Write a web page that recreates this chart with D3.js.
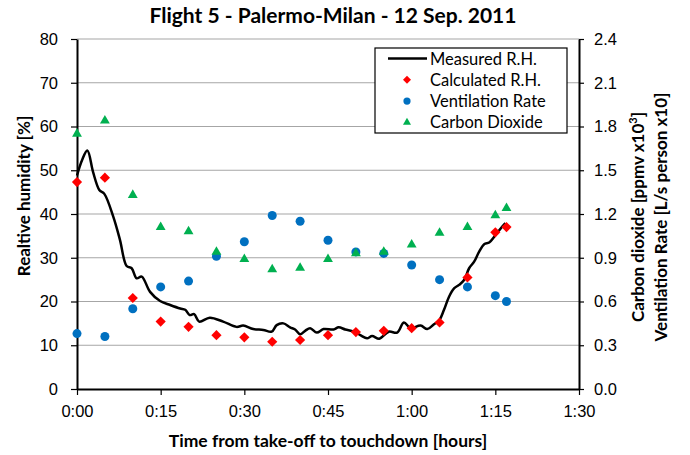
<!DOCTYPE html>
<html>
<head>
<meta charset="utf-8">
<script src="https://cdn.jsdelivr.net/npm/d3@7"></script>
<style>
  html, body { margin: 0; padding: 0; background: #fff; }
  svg { display: block; font-family: Lato, 'Open Sans', sans-serif; }
</style>
</head>
<body>
<div id="chart"></div>
<script>
// sample times in minutes after take-off
var sampleTimes = [0, 5, 10, 15, 20, 25, 30, 35, 40, 45, 50, 55, 60, 65, 70, 75, 77];
var calculatedRH = [47.3, 48.3, 20.8, 15.4, 14.2, 12.3, 11.8, 10.8, 11.2, 12.3, 13.0, 13.3, 13.9, 15.2, 25.5, 35.8, 37.0];
var ventilationRate = [0.38, 0.36, 0.55, 0.70, 0.74, 0.91, 1.01, 1.19, 1.15, 1.02, 0.94, 0.93, 0.85, 0.75, 0.70, 0.64, 0.60];
var carbonDioxide = [1.75, 1.84, 1.33, 1.11, 1.08, 0.94, 0.89, 0.82, 0.83, 0.89, 0.93, 0.94, 0.99, 1.07, 1.11, 1.19, 1.24];

// measured R.H. trace
var measuredTimes = [0, 0.9, 1.85, 2.9, 4.0, 4.9, 6.5, 7.7, 8.9, 9.8, 10.7, 11.6, 13.1, 14.9, 16.7, 18.5, 19.4, 20.2,
  21.0, 21.9, 23.8, 26.2, 28.6, 29.8, 31.6, 33.4, 34.9, 35.8, 37.0, 38.2, 39.1, 40.0, 40.9, 41.8, 43.0, 44.2,
  46.0, 46.9, 48.1, 49.6, 50.8, 52.0, 52.9, 54.2, 55.9, 57.4, 58.6, 59.8, 61.6, 62.8, 64.0, 64.9, 65.8, 66.7,
  67.6, 68.5, 69.4, 70.3, 71.2, 72.1, 73.0, 73.9, 74.8, 75.7, 76.8];
var measuredRH = [48.8, 52.3, 54.5, 49.5, 45.5, 44.6, 39.4, 34.1, 28.1, 27.6, 25.3, 25.7, 22.2, 20.1, 19.2, 18.4, 18.1, 16.9,
  17.1, 15.4, 16.3, 15.4, 14.2, 14.5, 13.7, 13.5, 13.1, 14.6, 15.0, 14.1, 13.6, 12.5, 13.3, 13.9, 12.9, 13.7,
  13.6, 14.1, 13.6, 13.1, 12.3, 11.6, 12.1, 11.5, 13.1, 12.9, 15.2, 13.9, 14.5, 13.7, 14.8, 15.6, 18.1, 21.1,
  23.0, 23.8, 24.9, 27.6, 29.1, 31.4, 33.1, 33.5, 34.8, 36.3, 37.9];

var xTicks = [0, 15, 30, 45, 60, 75, 90];
var leftTicks = [0, 10, 20, 30, 40, 50, 60, 70, 80];
var rightTicks = [0, 0.3, 0.6, 0.9, 1.2, 1.5, 1.8, 2.1, 2.4];

(function() {
    'use strict';

    var width = 690, height = 455;
    var margin = { top: 39, right: 111, bottom: 66, left: 77 };
    var innerWidth = width - margin.left - margin.right;
    var innerHeight = height - margin.top - margin.bottom;

    var colors = { red: '#ff0000', blue: '#0070c0', green: '#00b050', grid: '#a6a6a6' };

    var x = d3.scaleLinear().domain([0, 90]).range([0, innerWidth]);
    var yLeft = d3.scaleLinear().domain([0, 80]).range([innerHeight, 0]);
    var yRight = d3.scaleLinear().domain([0, 2.4]).range([innerHeight, 0]);

    var svg = d3.select('#chart').append('svg')
        .attr('width', width)
        .attr('height', height);

    // Title
    svg.append('text')
        .attr('x', 333)
        .attr('y', 23)
        .attr('text-anchor', 'middle')
        .attr('font-size', '21px')
        .attr('font-weight', 700)
        .text('Flight 5 - Palermo-Milan - 12 Sep. 2011');

    var g = svg.append('g')
        .attr('transform', 'translate(' + margin.left + ',' + margin.top + ')');

    // Horizontal grid
    g.append('g')
        .selectAll('line')
        .data(leftTicks.slice(1))
        .join('line')
        .attr('x1', 0)
        .attr('x2', innerWidth)
        .attr('y1', function(d) { return yLeft(d); })
        .attr('y2', function(d) { return yLeft(d); })
        .attr('stroke', colors.grid)
        .attr('stroke-width', 1.2);

    function styleAxis(sel) {
        sel.select('.domain').attr('stroke', '#000').attr('stroke-width', 2);
        sel.selectAll('.tick line').attr('stroke', '#000').attr('stroke-width', 1.2);
        sel.selectAll('.tick text').attr('fill', '#000').attr('font-size', '16.5px');
    }

    // Axes
    g.append('g')
        .call(d3.axisLeft(yLeft).tickValues(leftTicks).tickSize(6).tickPadding(13).tickSizeOuter(0))
        .call(styleAxis);

    g.append('g')
        .attr('transform', 'translate(' + innerWidth + ',0)')
        .call(d3.axisRight(yRight).tickValues(rightTicks).tickSize(5).tickPadding(10).tickSizeOuter(0)
            .tickFormat(d3.format('.1f')))
        .call(styleAxis);

    g.append('g')
        .attr('transform', 'translate(0,' + innerHeight + ')')
        .call(d3.axisBottom(x).tickValues(xTicks).tickSize(6).tickPadding(10).tickSizeOuter(0)
            .tickFormat(function(d) { return Math.floor(d / 60) + ':' + d3.format('02d')(d % 60); }))
        .call(styleAxis);

    // Axis titles
    svg.append('text')
        .attr('x', 328)
        .attr('y', 447)
        .attr('text-anchor', 'middle')
        .attr('font-size', '17.5px')
        .attr('font-weight', 700)
        .text('Time from take-off to touchdown [hours]');

    svg.append('text')
        .attr('transform', 'translate(30,196) rotate(-90)')
        .attr('text-anchor', 'middle')
        .attr('font-size', '17px')
        .attr('font-weight', 700)
        .text('Realtive humidity [%]');

    var rt = svg.append('text')
        .attr('transform', 'translate(644,217) rotate(-90)')
        .attr('text-anchor', 'middle')
        .attr('font-size', '17px')
        .attr('font-weight', 700);
    rt.append('tspan').text('Carbon dioxide [ppmv x10');
    rt.append('tspan').attr('dy', -7).attr('font-size', '11px').text('3');
    rt.append('tspan').attr('dy', 7).text(']');

    svg.append('text')
        .attr('transform', 'translate(667,217) rotate(-90)')
        .attr('text-anchor', 'middle')
        .attr('font-size', '17px')
        .attr('font-weight', 700)
        .text('Ventilation Rate [L/s person x10]');

    // Measured R.H. line
    var line = d3.line()
        .x(function(d) { return x(d[0]); })
        .y(function(d) { return yLeft(d[1]); })
        .curve(d3.curveCatmullRom.alpha(0.5));

    g.append('path')
        .datum(d3.zip(measuredTimes, measuredRH))
        .attr('d', line)
        .attr('fill', 'none')
        .attr('stroke', '#000')
        .attr('stroke-width', 2.5)
        .attr('stroke-linejoin', 'round');

    var diamond = d3.symbol().type(d3.symbolSquare).size(52);
    var triangle = d3.symbol().type(d3.symbolTriangle).size(42);

    // Calculated R.H.
    g.append('g')
        .selectAll('path')
        .data(d3.zip(sampleTimes, calculatedRH))
        .join('path')
        .attr('d', diamond)
        .attr('transform', function(d) { return 'translate(' + x(d[0]) + ',' + yLeft(d[1]) + ') rotate(45)'; })
        .attr('fill', colors.red);

    // Ventilation rate
    g.append('g')
        .selectAll('circle')
        .data(d3.zip(sampleTimes, ventilationRate))
        .join('circle')
        .attr('cx', function(d) { return x(d[0]); })
        .attr('cy', function(d) { return yRight(d[1]); })
        .attr('r', 4.5)
        .attr('fill', colors.blue);

    // Carbon dioxide
    g.append('g')
        .selectAll('path')
        .data(d3.zip(sampleTimes, carbonDioxide))
        .join('path')
        .attr('d', triangle)
        .attr('transform', function(d) { return 'translate(' + x(d[0]) + ',' + yRight(d[1]) + ')'; })
        .attr('fill', colors.green);

    // Legend
    var lg = svg.append('g').attr('transform', 'translate(375,48)');
    lg.append('rect')
        .attr('width', 192)
        .attr('height', 85)
        .attr('fill', '#fff')
        .attr('stroke', '#000')
        .attr('stroke-width', 1.2);

    var items = ['Measured R.H.', 'Calculated R.H.', 'Ventilation Rate', 'Carbon Dioxide'];
    items.forEach(function(name, i) {
        var cy = 10.5 + i * 21.3;
        if (i === 0) {
            lg.append('line').attr('x1', 13).attr('x2', 52).attr('y1', cy).attr('y2', cy)
                .attr('stroke', '#000').attr('stroke-width', 2.5);
        } else if (i === 1) {
            lg.append('path').attr('d', d3.symbol().type(d3.symbolSquare).size(32))
                .attr('transform', 'translate(32,' + cy + ') rotate(45)').attr('fill', colors.red);
        } else if (i === 2) {
            lg.append('circle').attr('cx', 32).attr('cy', cy).attr('r', 3.6).attr('fill', colors.blue);
        } else {
            lg.append('path').attr('d', d3.symbol().type(d3.symbolTriangle).size(28))
                .attr('transform', 'translate(32,' + cy + ')').attr('fill', colors.green);
        }
        lg.append('text')
            .attr('x', 55)
            .attr('y', cy + 6)
            .attr('font-size', '16.5px')
            .text(name);
    });
})();
</script>
</body>
</html>
